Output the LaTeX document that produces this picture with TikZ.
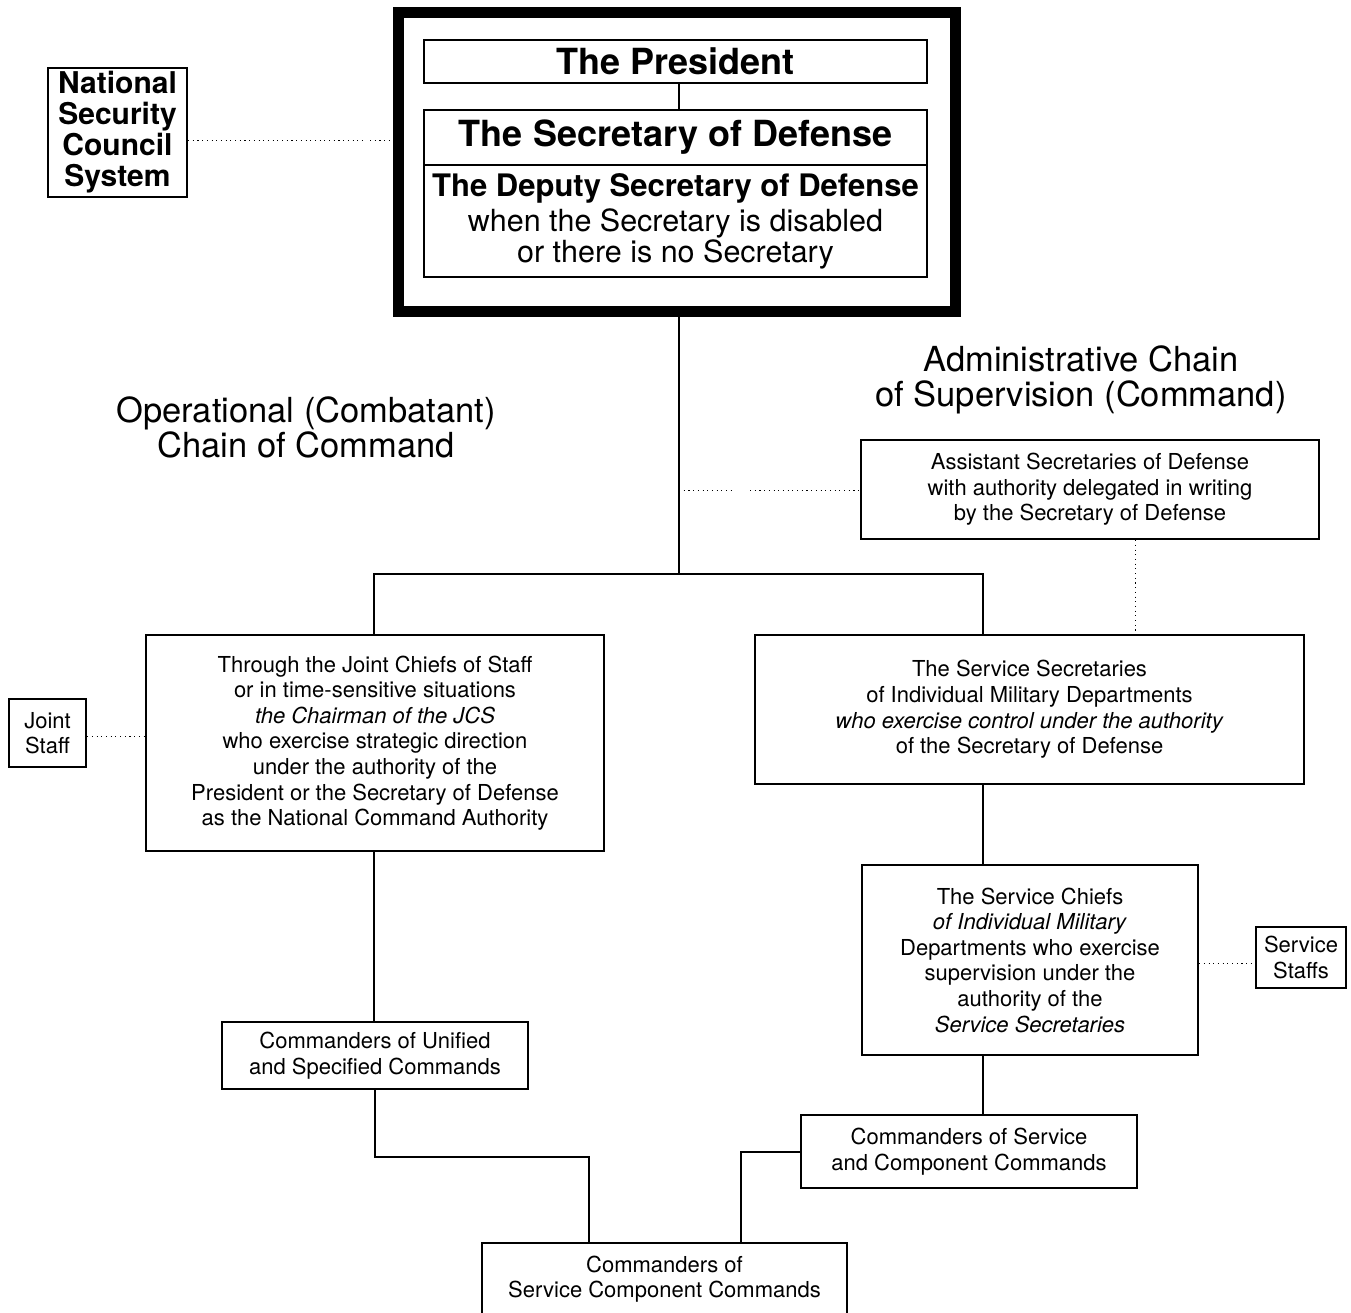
\documentclass[tikz,border=0pt]{standalone}
\usepackage{fontspec}
\setmainfont{TeX Gyre Heros}
\usetikzlibrary{calc}
\begin{document}
\begin{tikzpicture}[x=1pt,y=-1pt,
  box/.style={draw,line width=2.3pt,rectangle,inner sep=0pt,align=center,
    font=\fontsize{22}{25.6}\selectfont},
  bigbox/.style={draw,line width=2pt,rectangle,inner sep=0pt,align=center},
  conn/.style={line width=2pt},
  dotln/.style={line width=1pt,dash pattern=on 1.1pt off 3.6pt},
  headtxt/.style={align=center,inner sep=0pt,font=\fontsize{34.5}{35}\selectfont}]
\fill[white] (0,0) rectangle (1351,1312);
\useasboundingbox (0,0) rectangle (1351,1312);
\clip (0,0) rectangle (1351,1312);

% top group
\node[draw,line width=11pt,rectangle,minimum width=557pt,minimum height=299pt] (outer) at (677,162) {};
\node[bigbox,minimum width=503pt,minimum height=43pt,font=\fontsize{36}{40}\bfseries] (pres) at (675.5,61.5) {The President};
\node[bigbox,minimum width=503pt,minimum height=55pt,font=\fontsize{36}{40}\bfseries] (secdef) at (675.5,137.5) {The Secretary of Defense};
\node[bigbox,minimum width=503pt,minimum height=112pt,font=\fontsize{30.5}{30.5}\selectfont] (deputy) at (675.5,221)
  {{\fontsize{31}{31}\bfseries The Deputy Secretary of Defense}\\[5pt]when the Secretary is disabled\\or there is no Secretary};
\node[bigbox,minimum width=139pt,minimum height=129pt,font=\fontsize{30}{31}\bfseries] (nsc) at (117.5,132.5)
  {National\\Security\\Council\\System};

% headings
\node[headtxt] (ophead) at (306,427) {Operational (Combatant)\\Chain of Command};
\node[headtxt] (adhead) at (1081,380) {Administrative Chain\\of Supervision (Command)};

% boxes
\node[box,minimum width=458pt,minimum height=99pt] (asst) at (1090,489.5)
  {Assistant Secretaries of Defense\\with authority delegated in writing\\by the Secretary of Defense};
\node[box,minimum width=458pt,minimum height=216pt] (jcs) at (375,743)
  {Through the Joint Chiefs of Staff\\or in time-sensitive situations\\\textit{the Chairman of the JCS}\\who exercise strategic direction\\under the authority of the\\President or the Secretary of Defense\\as the National Command Authority};
\node[box,minimum width=549pt,minimum height=149pt] (svcsec) at (1029.5,709.5)
  {The Service Secretaries\\of Individual Military Departments\\\textit{who exercise control under the authority}\\of the Secretary of Defense};
\node[box,minimum width=77pt,minimum height=68pt] (jstaff) at (47.5,733) {Joint\\Staff};
\node[box,minimum width=336pt,minimum height=190pt] (chiefs) at (1030,960)
  {The Service Chiefs\\\textit{of Individual Military}\\Departments who exercise\\supervision under the\\authority of the\\\textit{Service Secretaries}};
\node[box,minimum width=90pt,minimum height=61pt] (sstaffs) at (1301,957.5) {Service\\Staffs};
\node[box,minimum width=306pt,minimum height=67pt] (unified) at (375,1055.5)
  {Commanders of Unified\\and Specified Commands};
\node[box,minimum width=336pt,minimum height=73pt] (svccomp) at (969,1151.5)
  {Commanders of Service\\and Component Commands};
\node[box,minimum width=365pt,minimum height=72pt] (bottom) at (664.5,1279)
  {Commanders of\\Service Component Commands};

% junctions
\coordinate (jn) at (679,574);
\coordinate (lj) at (374,574);
\coordinate (rj) at (983,574);
\coordinate (bl) at (589,1157);
\coordinate (br) at ($(bottom.north)+(76.5,0)$);

% solid connectors
\draw[conn] (pres.south -| jn) -- (secdef.north -| jn);
\draw[conn] (outer.south -| jn) -- (jn);
\draw[conn] (jcs.north -| lj) -- (lj) -- (rj) -- (svcsec.north -| rj);
\draw[conn] (svcsec.south -| rj) -- (chiefs.north -| rj);
\draw[conn] (chiefs.south -| rj) -- (svccomp.north -| rj);
\draw[conn] (jcs.south -| lj) -- (unified.north -| lj);
\draw[conn] (unified.south) |- (bl) -- (bl |- bottom.north);
\draw[conn] (svccomp.west) -| (br);

% dotted connectors
\coordinate (nscgap) at (362,140);
\draw[dotln] (nsc.east |- nscgap) -- (nscgap);
\draw[dotln] ($(nscgap)+(8,0)$) -- (outer.west |- nscgap);
\coordinate (asgap) at (733,490);
\draw[dotln] (jn |- asgap) -- (asgap);
\draw[dotln] ($(asgap)+(17,0)$) -- (asst.west |- asgap);
\draw[dotln] ($(asst.south)+(45,0)$) -- ($(svcsec.north -| asst.south)+(45,0)$);
\draw[dotln] (jstaff.east |- 0,736) -- (jcs.west |- 0,736);
\draw[dotln] (chiefs.east |- 0,963) -- (sstaffs.west |- 0,963);
\end{tikzpicture}
\end{document}
